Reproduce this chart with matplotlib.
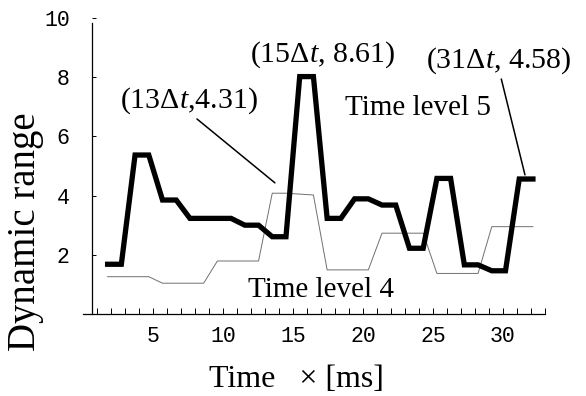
import numpy as np
import matplotlib
matplotlib.use('Agg')
import matplotlib.pyplot as plt

# time steps and the two dynamic range series
steps = np.arange(1, 33)
time_ms = 0.78 + 0.98 * steps
level5 = [1.68, 1.68, 5.37, 5.37, 3.85, 3.85, 3.23, 3.23,
          3.23, 3.23, 3.00, 3.00, 2.61, 2.61, 8.02, 8.02,
          3.23, 3.23, 3.89, 3.89, 3.68, 3.68, 2.22, 2.22,
          4.58, 4.58, 1.66, 1.66, 1.46, 1.46, 4.56, 4.56]
level4 = [1.26, 1.26, 1.26, 1.26, 1.04, 1.04, 1.04, 1.04,
          1.79, 1.79, 1.79, 1.79, 4.08, 4.08, 4.05, 4.02,
          1.49, 1.49, 1.49, 1.49, 2.73, 2.73, 2.73, 2.73,
          1.37, 1.37, 1.37, 1.37, 2.95, 2.95, 2.95, 2.95]

plt.rcParams['font.family'] = 'Liberation Serif'
plt.rcParams['mathtext.fontset'] = 'custom'
plt.rcParams['mathtext.rm'] = 'Liberation Serif'
plt.rcParams['mathtext.it'] = 'Liberation Serif:italic'

fig = plt.figure(figsize=(5.86, 3.96), dpi=100)
ax = fig.add_axes([0.1416, 0.2071, 0.7884, 0.7475])

ax.plot(time_ms, level4, color='#707070', lw=0.7)
ax.plot(time_ms, level5, color='black', lw=3.8, solid_joinstyle='miter')

ax.set_xlim(0, 33)
ax.set_ylim(0, 10)

for s in ['top', 'right']:
    ax.spines[s].set_visible(False)
ax.spines['left'].set_position(('data', 0.64))
ax.spines['left'].set_bounds(0, 9.83)
ax.spines['left'].set_linewidth(0.9)
ax.spines['bottom'].set_linewidth(0.9)

ax.set_xticks([5, 10, 15, 20, 25, 30])
ax.set_xticks(range(1, 34), minor=True)
ax.set_yticks([2, 4, 6, 8, 10])
ax.tick_params(axis='x', which='both', direction='in', length=4, width=0.7, pad=9)
ax.tick_params(axis='y', which='both', direction='in', length=3, width=0.7, pad=16)
for lab in ax.get_xticklabels() + ax.get_yticklabels():
    lab.set_fontfamily('Liberation Mono')
    lab.set_fontsize(15.5)

ax.set_xlabel('Time   \u00d7 [ms]', fontsize=23)
ax.xaxis.set_label_coords(0.463, -0.223)
ax.xaxis.label.set_va('center')
ax.set_ylabel('Dynamic range', fontsize=28)
ax.yaxis.set_label_coords(-0.125, 0.277)
ax.yaxis.label.set_va('center')

ax.annotate(r'(13$\Delta t$,4.31)', xy=(13.71, 4.43), xytext=(7.57, 7.2),
            ha='center', va='center', fontsize=21.5,
            arrowprops=dict(arrowstyle='-', color='black', lw=1.1,
                            relpos=(0.52, 0.05), shrinkA=0, shrinkB=0))
ax.text(17.1, 8.75, r'(15$\Delta t$, 8.61)', ha='center', va='center', fontsize=21.5)
ax.annotate(r'(31$\Delta t$, 4.58)', xy=(31.57, 4.70), xytext=(29.7, 8.55),
            ha='center', va='center', fontsize=21.5,
            arrowprops=dict(arrowstyle='-', color='black', lw=1.1,
                            relpos=(0.51, 0.05), shrinkA=0, shrinkB=0))
ax.text(23.9, 6.96, 'Time level 5', ha='center', va='center', fontsize=21)
ax.text(17.0, 0.81, 'Time level 4', ha='center', va='center', fontsize=21)

fig.savefig('out.png', dpi=100)
